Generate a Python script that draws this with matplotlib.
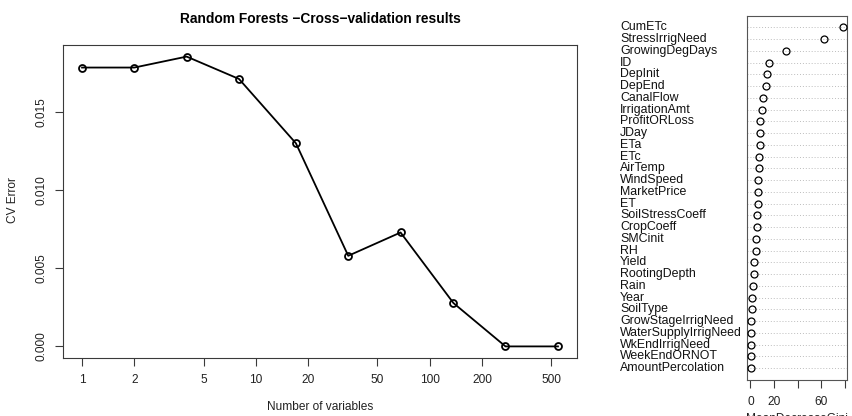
import matplotlib
matplotlib.use("Agg")
import matplotlib.pyplot as plt
import matplotlib.transforms as mtransforms
import numpy as np

plt.rcParams['font.family'] = ['Liberation Sans', 'DejaVu Sans']

# Cross-validation error vs. number of predictors retained
n_vars = [1, 2, 4, 8, 17, 34, 68, 137, 273, 547]
cv_error = [0.01782, 0.01782, 0.01852, 0.01709, 0.01298, 0.00579, 0.00728, 0.00277, 0.0, 0.0]
x_ticks = [1, 2, 5, 10, 20, 50, 100, 200, 500]
y_ticks = [0.000, 0.005, 0.010, 0.015]

# Variable importance (top 30), most important first
var_names = ["CumETc", "StressIrrigNeed", "GrowingDegDays", "ID", "DepInit", "DepEnd",
             "CanalFlow", "IrrigationAmt", "ProfitORLoss", "JDay", "ETa", "ETc",
             "AirTemp", "WindSpeed", "MarketPrice", "ET", "SoilStressCoeff", "CropCoeff",
             "SMCinit", "RH", "Yield", "RootingDepth", "Rain", "Year", "SoilType",
             "GrowStageIrrigNeed", "WaterSupplyIrrigNeed", "WkEndIrrigNeed",
             "WeekEndORNOT", "AmountPercolation"]
gini = [78.8, 62.7, 30.4, 15.7, 14.1, 13.5, 10.7, 9.8, 8.4, 8.2, 7.9, 7.3, 7.0, 6.8,
        6.2, 6.2, 5.9, 5.9, 5.1, 4.5, 3.4, 2.8, 2.0, 1.4, 1.1, 0.8, 0.8, 0.6, 0.6, 0.3]
gini_ticks = [0, 20, 40, 60, 80]
gini_labels = ["0", "20", "", "60", ""]

W, H = 852, 416
fig = plt.figure(figsize=(W / 100, H / 100), dpi=100)

def fbox(x0, y0, x1, y1):
    return [x0 / W, 1 - y1 / H, (x1 - x0) / W, (y1 - y0) / H]

frame_col = '#3a3a3a'
fs = 8.6

# ---- left: CV error curve ----
ax = fig.add_axes(fbox(63, 45, 577, 358))
ax.plot(n_vars, cv_error, color='black', lw=1.3, marker='o', ms=5.0,
        mfc='none', mec='black', mew=1.3)
ax.set_xscale('log')
lx = np.log10([min(n_vars), max(n_vars)])
pad = 0.04 * (lx[1] - lx[0])
ax.set_xlim(10 ** (lx[0] - pad), 10 ** (lx[1] + pad))
ymin, ymax = min(cv_error), max(cv_error)
ypad = 0.04 * (ymax - ymin)
ax.set_ylim(ymin - ypad, ymax + ypad)
ax.set_xticks(x_ticks)
ax.set_xticklabels([str(t) for t in x_ticks])
ax.xaxis.set_minor_locator(matplotlib.ticker.NullLocator())
ax.set_yticks(y_ticks)
ax.set_yticklabels([f"{t:.3f}" for t in y_ticks], rotation=90, va='center')
ax.tick_params(axis='both', direction='out', length=5.5, width=0.8, color=frame_col,
               labelsize=fs, labelcolor='#222222', pad=6)
for s in ax.spines.values():
    s.set_color(frame_col)
    s.set_linewidth(0.8)
ax.set_title("Random Forests \u2212Cross\u2212validation results", fontsize=9.9,
             fontweight='bold', pad=0, y=1 + 22 / 313)
fig.text(320 / W, 1 - 407 / H, "Number of variables", ha='center', va='center',
         fontsize=fs, color='#222222')
fig.text(13 / W, 1 - 200 / H, "CV Error", ha='center', va='center', rotation=90,
         fontsize=fs, color='#222222')

# ---- right: importance dot chart ----
ax2 = fig.add_axes(fbox(747, 15.7, 847, 380))
n = len(var_names)
ypos = np.arange(n, 0, -1)
gmin, gmax = min(gini), max(gini)
gpad = 0.04 * (gmax - gmin)
ax2.set_xlim(gmin - gpad, gmax + gpad)
ax2.set_ylim(0, n + 1)
for y in ypos:
    ax2.axhline(y, color='#bdbdbd', lw=0.7, ls=(0, (1, 2)), zorder=1)
ax2.plot(gini, ypos, ls='none', marker='o', ms=5.0, mfc='none', mec='black',
         mew=0.9, zorder=3)
ax2.set_yticks([])
ax2.set_xticks(gini_ticks)
ax2.set_xticklabels(gini_labels)
ax2.tick_params(axis='x', direction='out', length=5.5, width=0.8, color=frame_col,
                labelsize=fs, labelcolor='#222222', pad=6)
for s in ax2.spines.values():
    s.set_color('#555555')
    s.set_linewidth(0.8)
label_tr = mtransforms.blended_transform_factory(fig.transFigure, ax2.transData)
for name, y in zip(var_names, ypos):
    ax2.text(620 / W, y, name, transform=label_tr, ha='left', va='center',
             fontsize=8.9, color='#111111')
fig.text(797 / W, 1 - 419 / H, "MeanDecreaseGini", ha='center', va='center',
         fontsize=fs, color='#222222')

fig.savefig("out.png", dpi=100)
